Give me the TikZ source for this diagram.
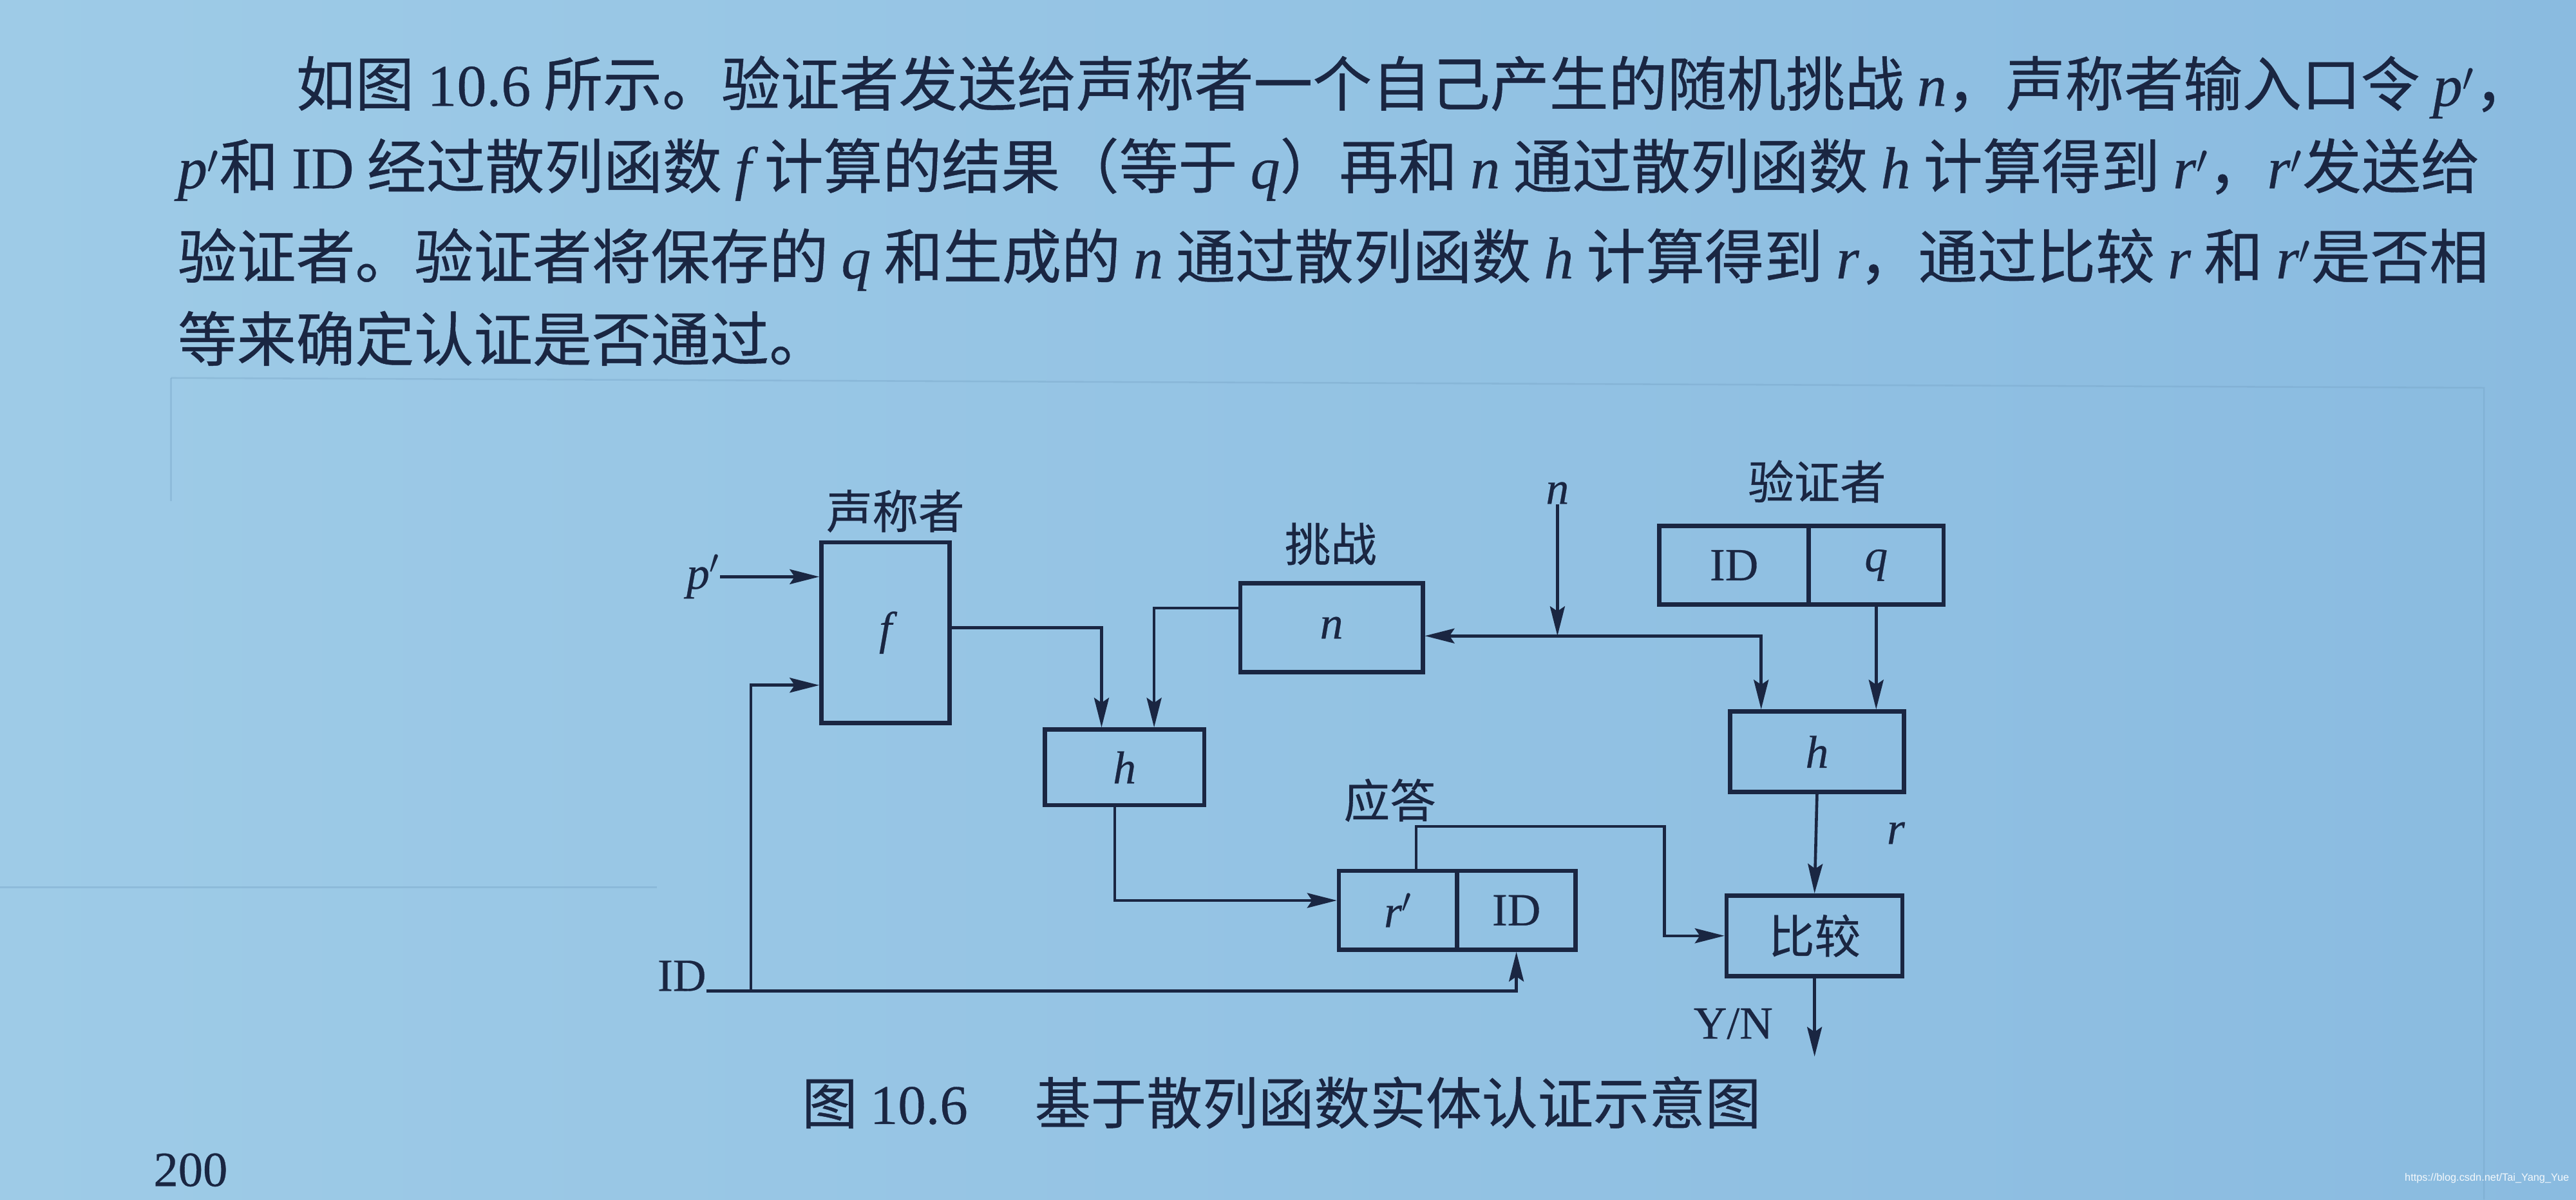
\documentclass[tikz,border=0pt]{standalone}
\usepackage{fontspec}
\setmainfont{Liberation Serif}
\newfontfamily\cjk[FakeBold=0.5]{Noto Sans CJK SC}
\newfontfamily\tm[FakeBold=0.4]{Liberation Serif}
\newfontfamily\wmfont{Liberation Sans}
\usetikzlibrary{arrows.meta,calc}
\definecolor{paperL}{RGB}{158,203,231}
\definecolor{paperR}{RGB}{138,187,224}
\definecolor{ink}{RGB}{26,38,66}
\definecolor{ghost}{RGB}{115,160,195}
\newcommand\V[1]{{\tm\itshape #1}}
\newcommand\VP[1]{{\tm\itshape #1}$'$}
\newcommand\T[1]{{\tm #1}}
\newcommand\gsp{\hspace{0.22em}}
\newcommand\pline[2]{\node[anchor=west,inner sep=0pt,text=ink] at (#1) {\fontsize{36}{40}\selectfont\cjk #2};}
\tikzset{
  box/.style={draw=ink, line width=2.6pt, inner sep=0pt, text=ink, font=\fontsize{28}{30}\selectfont},
  lab/.style={inner sep=0pt, text=ink, font=\fontsize{28}{30}\selectfont},
  conn/.style={draw=ink, line width=1.8pt},
  arr/.style={conn, -{Stealth[length=18pt,width=9pt,inset=3pt]}},
}
\begin{document}
\begin{tikzpicture}[x=1pt,y=-1pt]
\useasboundingbox (0,0) rectangle (1568,730);
\clip (0,0) rectangle (1568,730);
\shade[left color=paperL, right color=paperR] (0,0) rectangle (1568,730);
% faint show-through lines
\draw[ghost, line width=1pt, opacity=0.35] (104,230) -- (1512,236) -- (1512,730);
\draw[ghost, line width=1pt, opacity=0.35] (104,230) -- (104,305);
\draw[ghost, line width=1pt, opacity=0.35] (0,540) -- (400,540);

% paragraph
\pline{180,53}{如图\T{\gsp{}10.6\gsp{}}所示。验证者发送给声称者一个自己产生的随机挑战\gsp{}\V{n}，声称者输入口令\gsp{}\VP{p}，}
\pline{108,103}{\VP{p}和\gsp{}\T{ID}\gsp{}经过散列函数\gsp{}\V{f}\gsp{}计算的结果（等于\gsp{}\V{q}）再和\gsp{}\V{n}\gsp{}通过散列函数\gsp{}\V{h}\gsp{}计算得到\gsp{}\VP{r}，\VP{r}发送给}
\pline{108,158}{验证者。验证者将保存的\gsp{}\V{q}\gsp{}和生成的\gsp{}\V{n}\gsp{}通过散列函数\gsp{}\V{h}\gsp{}计算得到\gsp{}\V{r}，通过比较\gsp{}\V{r}\gsp{}和\gsp{}\VP{r}是否相}
\pline{108,206}{等来确定认证是否通过。}

% boxes
\node[box, minimum width=78pt, minimum height=110pt] (f) at (539,385) {\V{f}};
\node[box, minimum width=111pt, minimum height=54pt] (nb) at (810.5,382) {\V{n}};
\node[box, minimum width=97pt, minimum height=46pt] (h1) at (684.5,467) {\V{h}};
\node[box, minimum width=106pt, minimum height=49pt] (h2) at (1106,457.5) {\V{h}};
\node[box, minimum width=107pt, minimum height=49pt] (cmp) at (1104.5,569.5) {\cjk 比较};
\node[box, minimum width=72pt, minimum height=48pt] (rp) at (851,554) {\VP{r}};
\node[box, minimum width=72pt, minimum height=48pt] (idc) at (923,554) {\T{ID}};
\node[box, minimum width=91pt, minimum height=48pt] (vid) at (1055.5,344) {\T{ID}};
\node[box, minimum width=82pt, minimum height=48pt] (qc) at (1142,344) {\V{q}};

% labels
\node[lab] (lclaim) at (545,311) {\cjk 声称者};
\node[lab] (lchal) at (810,331) {\cjk 挑战};
\node[lab] (lver) at (1106,293) {\cjk 验证者};
\node[lab] (lresp) at (846,487) {\cjk 应答};
\node[lab] (pin) at (428,351) {\VP{p}};
\node[lab, anchor=base east] (idin) at (430,603) {\T{ID}};
\node[lab] (nin) at (948,300) {\V{n}};
\node[lab] (rlab) at (1154,507) {\V{r}};
\node[lab] (yn) at (1055,623) {\T{Y/N}};

% coordinates
\coordinate (idj) at (457,603);
\coordinate (nj) at (948,387);
\coordinate (ra) at (1013,503);
\coordinate (out) at (1104.5,643);

% connectors
\draw[arr] (pin.east) -- (pin.east -| f.west);
\draw[conn] (idin.base east) -- (idj);
\draw[arr] (idj) |- ([yshift=-32pt]f.west);
\draw[arr] (idj) -| (idc.south);
\draw[arr] ([yshift=3pt]f.east) -| ([xshift=-14pt]h1.north);
\draw[arr] ([yshift=12pt]nb.west) -| ([xshift=18pt]h1.north);
\draw[arr] (nin.south) -- (nj);
\draw[arr] (nj) -- (nj -| nb.east);
\draw[arr] (nj) -| ([xshift=-34pt]h2.north);
\draw[arr] (qc.south) -- (qc.south |- h2.north);
\draw[arr] (h2.south) -- (cmp.north);
\draw[arr] (cmp.south) -- (out);
\draw[arr] ([xshift=-6pt]h1.south) |- ([yshift=6pt]rp.west);
\draw[arr] ([xshift=11pt]rp.north) |- (ra) |- (cmp.west);

% caption
\node[inner sep=0pt, text=ink, font=\fontsize{34}{36}\selectfont\cjk] (cap) at (780,671) {图\T{\gsp{}10.6}\hspace{1.2em}基于散列函数实体认证示意图};

% page number and watermark
\node[inner sep=0pt, text=ink, font=\fontsize{30}{32}\selectfont] (pg) at (116,712) {\T{200}};
\node[inner sep=0pt, text=white, opacity=0.9, anchor=east] (wm) at (1564,717) {\resizebox{100pt}{!}{\wmfont\fontsize{9}{10}\selectfont https://blog.csdn.net/Tai\_Yang\_Yue}};
\end{tikzpicture}
\end{document}
